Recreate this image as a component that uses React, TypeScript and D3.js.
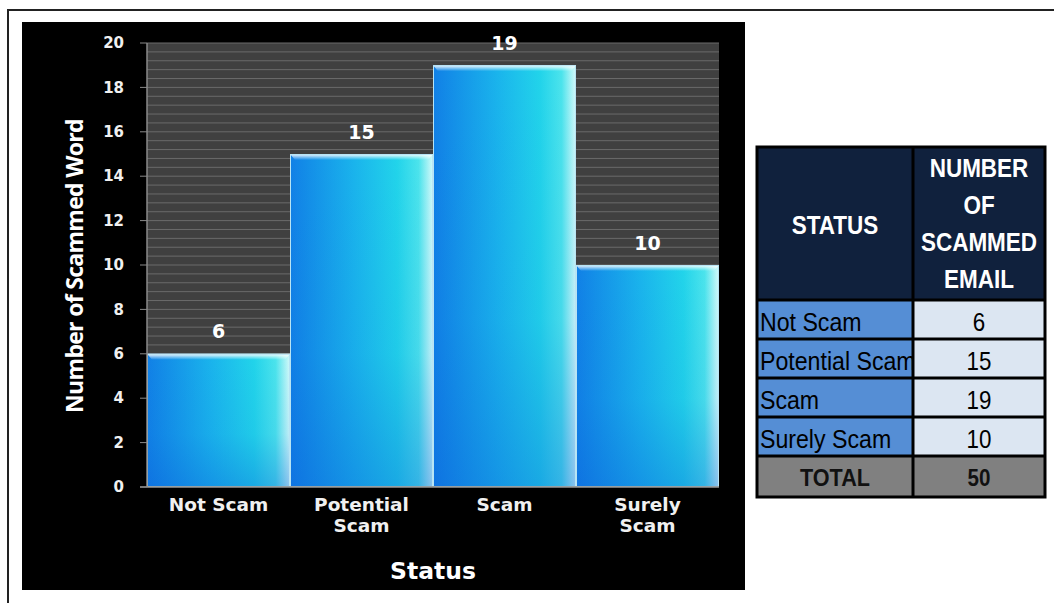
import * as d3 from "d3";

// chart data
const categories = ["Not Scam", "Potential Scam", "Scam", "Surely Scam"];
const counts = [6, 15, 19, 10];
const xLabelLines = [["Not Scam"], ["Potential", "Scam"], ["Scam"], ["Surely", "Scam"]];
const yTicks = [0, 2, 4, 6, 8, 10, 12, 14, 16, 18, 20];

// table data
const tableHeader = [["STATUS"], ["NUMBER", "OF", "SCAMMED", "EMAIL"]];
const tableRows = categories.map((c, i) => ({ status: c, value: counts[i] }));
const totalLabel = "TOTAL";
const totalValue = d3.sum(counts);

const W = 1054;
const H = 603;

// chart box
const chart = { x: 22, y: 22, w: 723, h: 568 };
const plot = { left: 147, right: 719, top: 43, bottom: 487 };

const x = d3.scaleBand<string>().domain(categories).range([plot.left, plot.right]).padding(0);
const y = d3.scaleLinear().domain([0, 20]).range([plot.bottom, plot.top]);

// minor grid every 0.4
const minorGrid = d3.range(0, 20.001, 0.4);

// table layout
const tbl = { x: 757, y: 147, col: 913, right: 1045, headBottom: 300, rowH: 39 };

const boldChart = "'DejaVu Sans', Verdana, sans-serif";
const arial = "'Liberation Sans', Arial, sans-serif";

export default function App() {
  const bw = x.bandwidth();
  return (
    <svg width={W} height={H} style={{ position: "absolute", left: 0, top: 0 }}>
      <defs>
        <linearGradient id="barH" x1="0" y1="0" x2="1" y2="0">
          <stop offset="0" stopColor="#1180e6" />
          <stop offset="0.45" stopColor="#1ab4ec" />
          <stop offset="0.75" stopColor="#22d4ea" />
          <stop offset="0.9" stopColor="#4ce4ec" />
          <stop offset="1" stopColor="#d6fafa" />
        </linearGradient>
        <linearGradient id="barV" x1="0" y1="0" x2="0" y2="1">
          <stop offset="0" stopColor="#0a60d8" stopOpacity="0" />
          <stop offset="0.6" stopColor="#0a60d8" stopOpacity="0.08" />
          <stop offset="1" stopColor="#0a5ad8" stopOpacity="0.35" />
        </linearGradient>
        <linearGradient id="bevel" x1="0" y1="0" x2="0" y2="1">
          <stop offset="0" stopColor="#ffffff" stopOpacity="0.95" />
          <stop offset="1" stopColor="#ffffff" stopOpacity="0" />
        </linearGradient>
      </defs>

      {/* page frame */}
      <rect x={8} y={10} width={1100} height={700} fill="#fff" stroke="#222" strokeWidth={2} />

      {/* chart */}
      <rect x={chart.x} y={chart.y} width={chart.w} height={chart.h} fill="#000" />
      <rect x={plot.left} y={plot.top} width={plot.right - plot.left} height={plot.bottom - plot.top} fill="#404040" />
      {minorGrid.map((v, i) => (
        <line key={i} x1={plot.left} x2={plot.right} y1={y(v)} y2={y(v)} stroke="#6a6a6a" strokeWidth={1} />
      ))}

      {/* bars */}
      {categories.map((c, i) => {
        const bx = x(c)!;
        const by = y(counts[i]);
        const bh = plot.bottom - by;
        return (
          <g key={c}>
            <rect x={bx} y={by} width={bw} height={bh} fill="url(#barH)" />
            <rect x={bx} y={by} width={bw} height={bh} fill="url(#barV)" />
            <path d={`M${bx},${by} h${bw} l-5,6 h${-bw + 10} Z`} fill="url(#bevel)" />
            <rect x={bx + 0.5} y={by + 0.5} width={bw - 1} height={bh - 1} fill="none" stroke="#b8e4f4" strokeWidth={1} />
            <text
              x={bx + bw / 2}
              y={by - 22}
              dy="0.35em"
              textAnchor="middle"
              fill="#fff"
              fontFamily={boldChart}
              fontWeight="bold"
              fontSize={19}
            >
              {counts[i]}
            </text>
          </g>
        );
      })}

      {/* axes */}
      <line x1={plot.left} x2={plot.left} y1={plot.top} y2={plot.bottom} stroke="#8a8a8a" strokeWidth={1.5} />
      <line x1={140} x2={plot.right} y1={plot.bottom} y2={plot.bottom} stroke="#8a8a8a" strokeWidth={1.5} />
      {yTicks.map((t) => (
        <g key={t}>
          <line x1={140} x2={plot.left} y1={y(t)} y2={y(t)} stroke="#8a8a8a" strokeWidth={1} />
          <text
            x={124}
            y={y(t)}
            dy="0.35em"
            textAnchor="end"
            fill="#f0f0f0"
            fontFamily={boldChart}
            fontWeight="bold"
            fontSize={15}
          >
            {t}
          </text>
        </g>
      ))}
      {categories.map((c, i) => (
        <text
          key={c}
          x={x(c)! + bw / 2}
          y={505}
          textAnchor="middle"
          fill="#f0f0f0"
          fontFamily={boldChart}
          fontWeight="bold"
          fontSize={18.5}
        >
          {xLabelLines[i].map((l, j) => (
            <tspan key={j} x={x(c)! + bw / 2} dy={j === 0 ? "0.35em" : 21}>
              {l}
            </tspan>
          ))}
        </text>
      ))}
      <text x={433} y={571} dy="0.35em" textAnchor="middle" fill="#fff" fontFamily={boldChart} fontWeight="bold" fontSize={23.5}>
        Status
      </text>
      <text
        transform="translate(75,266) rotate(-90)"
        textAnchor="middle"
        dy="0.35em"
        fill="#fff"
        fontFamily="'Open Sans', sans-serif"
        fontWeight="bold"
        fontSize={23}
        letterSpacing={-0.7}
      >
        Number of Scammed Word
      </text>

      {/* table */}
      <rect x={tbl.x} y={tbl.y} width={tbl.right - tbl.x} height={tbl.headBottom - tbl.y} fill="#10213d" />
      <g transform={`translate(${(tbl.x + tbl.col) / 2},${(tbl.y + tbl.headBottom) / 2 + 2}) scale(0.9,1)`}>
        <text textAnchor="middle" dy="0.35em" fill="#fff" fontFamily={arial} fontWeight="bold" fontSize={25}>
          {tableHeader[0][0]}
        </text>
      </g>
      {tableHeader[1].map((w, j) => (
        <g key={w} transform={`translate(${(tbl.col + tbl.right) / 2},${168 + j * 37}) scale(0.9,1)`}>
          <text textAnchor="middle" dy="0.35em" fill="#fff" fontFamily={arial} fontWeight="bold" fontSize={25}>
            {w}
          </text>
        </g>
      ))}
      <clipPath id="col1">
        <rect x={tbl.x} y={tbl.headBottom} width={tbl.col - tbl.x} height={300} />
      </clipPath>
      {tableRows.map((r, i) => {
        const ry = tbl.headBottom + i * tbl.rowH;
        return (
          <g key={r.status}>
            <rect x={tbl.x} y={ry} width={tbl.col - tbl.x} height={tbl.rowH} fill="#558ed5" />
            <rect x={tbl.col} y={ry} width={tbl.right - tbl.col} height={tbl.rowH} fill="#dce6f2" />
            <g clipPath="url(#col1)">
              <g transform={`translate(${tbl.x + 3},${ry + tbl.rowH / 2 + 2}) scale(0.89,1)`}>
                <text dy="0.35em" fill="#000" fontFamily={arial} fontSize={26}>
                  {r.status}
                </text>
              </g>
            </g>
            <g transform={`translate(${(tbl.col + tbl.right) / 2},${ry + tbl.rowH / 2 + 2}) scale(0.86,1)`}>
              <text textAnchor="middle" dy="0.35em" fill="#000" fontFamily={arial} fontSize={26}>
                {r.value}
              </text>
            </g>
          </g>
        );
      })}
      {(() => {
        const ry = tbl.headBottom + tableRows.length * tbl.rowH;
        return (
          <g>
            <rect x={tbl.x} y={ry} width={tbl.right - tbl.x} height={tbl.rowH + 2} fill="#808080" />
            <g transform={`translate(${(tbl.x + tbl.col) / 2},${ry + tbl.rowH / 2 + 2}) scale(0.9,1)`}>
              <text textAnchor="middle" dy="0.35em" fill="#111" fontFamily={arial} fontWeight="bold" fontSize={24}>
                {totalLabel}
              </text>
            </g>
            <g transform={`translate(${(tbl.col + tbl.right) / 2},${ry + tbl.rowH / 2 + 2}) scale(0.86,1)`}>
              <text textAnchor="middle" dy="0.35em" fill="#111" fontFamily={arial} fontWeight="bold" fontSize={24}>
                {totalValue}
              </text>
            </g>
          </g>
        );
      })()}
      {/* table grid lines */}
      {d3.range(tableRows.length + 1).map((i) => (
        <line
          key={i}
          x1={tbl.x}
          x2={tbl.right}
          y1={tbl.headBottom + i * tbl.rowH}
          y2={tbl.headBottom + i * tbl.rowH}
          stroke="#000"
          strokeWidth={3}
        />
      ))}
      <line x1={tbl.col} x2={tbl.col} y1={tbl.y} y2={tbl.headBottom + (tableRows.length + 1) * tbl.rowH + 2} stroke="#000" strokeWidth={3} />
      <rect
        x={tbl.x}
        y={tbl.y}
        width={tbl.right - tbl.x}
        height={tbl.headBottom + (tableRows.length + 1) * tbl.rowH + 2 - tbl.y}
        fill="none"
        stroke="#000"
        strokeWidth={3}
      />
    </svg>
  );
}
